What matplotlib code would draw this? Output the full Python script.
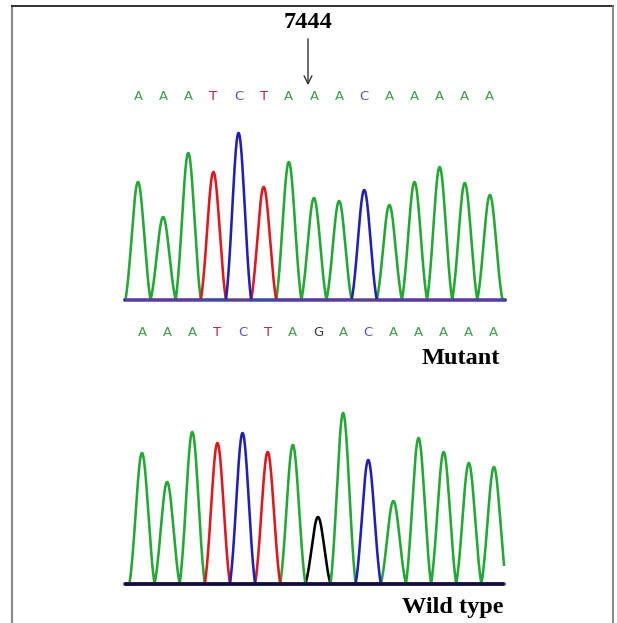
import numpy as np
import matplotlib
matplotlib.use("Agg")
import matplotlib.pyplot as plt

# called bases and peak heights
MUTANT_SEQ = list("AAATCTAAACAAAAA")
WILD_SEQ = list("AAATCTAGACAAAAA")
MUTANT_HEIGHT = [118, 83, 147, 128, 167, 113, 138, 102, 99, 110, 95, 118, 133, 117, 105]
WILD_HEIGHT = [131, 102, 152, 141, 151, 132, 139, 67, 171, 124, 83, 146, 132, 121, 117]
POSITION = "7444"

TRACE_COLOR = {"A": "#22a833", "T": "#e3161c", "C": "#2020b8", "G": "#000000"}
LETTER_COLOR = {"A": "#3d9e4a", "T": "#b0283c", "C": "#5a55b5", "G": "#3a3a3a"}

W, H = 617, 623
SERIF = ["Liberation Serif", "DejaVu Serif"]


def px_axes(fig, left, right, base, height=180, pad=2):
    """Axes placed in pixel units; 1 y-unit == 1 pixel, baseline at y=0."""
    bottom = H - base - pad
    ax = fig.add_axes([left / W, bottom / H, (right - left) / W, height / H])
    ax.set_ylim(-pad, height - pad)
    ax.axis("off")
    return ax


def peak(d, half=0.5, sigma=0.25):
    # truncated gaussian that reaches zero at +-half
    floor = np.exp(-0.5 * (half / sigma) ** 2)
    g = (np.exp(-0.5 * (d / sigma) ** 2) - floor) / (1 - floor)
    return np.clip(g, 0, None)


def draw_trace(ax, seq, heights, xlim, base_color, base_lw):
    x = np.linspace(xlim[0], xlim[1], 3000)
    for base in ["G", "A", "T", "C"]:
        y = np.zeros_like(x)
        for i, (b, h) in enumerate(zip(seq, heights)):
            if b == base:
                y += h * peak(x - i)
        ax.plot(x, y, color=TRACE_COLOR[base], lw=1.85, clip_on=False,
                solid_joinstyle="round")
    ax.plot(xlim, [0, 0], color=base_color, lw=base_lw, clip_on=False,
            solid_capstyle="butt", zorder=5)
    ax.set_xlim(*xlim)


fig = plt.figure(figsize=(W / 100, H / 100), dpi=100)

bg = fig.add_axes([0, 0, 1, 1])
bg.set_xlim(0, W)
bg.set_ylim(H, 0)
bg.axis("off")
bg.plot([12, 12], [6, H], color="#8a8a8a", lw=1.6)
bg.plot([12, 613], [6, 6], color="#222222", lw=1.3)
bg.plot([613, 613], [6, H], color="#777777", lw=1.2)

bg.text(308, 23, POSITION, ha="center", va="center", fontsize=17.5,
        fontweight="bold", family=SERIF)
bg.annotate("", xy=(308, 88), xytext=(308, 36),
            arrowprops=dict(arrowstyle="->", color="#333333", lw=1.0,
                            mutation_scale=14))

# mutant trace
ax1 = px_axes(fig, 125, 505, 300)
draw_trace(ax1, MUTANT_SEQ, MUTANT_HEIGHT, (-0.517, 14.6), "#4b3fb4", 1.6)
for i, b in enumerate(MUTANT_SEQ):
    ax1.text(i, 300 - 97, b, ha="center", va="center", fontsize=9.5,
             color=LETTER_COLOR[b], clip_on=False)

# wild type trace
ax2 = px_axes(fig, 125, 504, 584)
draw_trace(ax2, WILD_SEQ, WILD_HEIGHT, (-0.676, 14.4), "#10103a", 2.6)
for i, b in enumerate(WILD_SEQ):
    ax2.text(i, 584 - 332, b, ha="center", va="center", fontsize=9.5,
             color=LETTER_COLOR[b], clip_on=False)

bg.text(500, 358, "Mutant", ha="right", va="center", fontsize=17.5,
        fontweight="bold", family=SERIF)
bg.text(504, 607, "Wild type", ha="right", va="center", fontsize=17.5,
        fontweight="bold", family=SERIF)

fig.savefig("out.png", dpi=100)
